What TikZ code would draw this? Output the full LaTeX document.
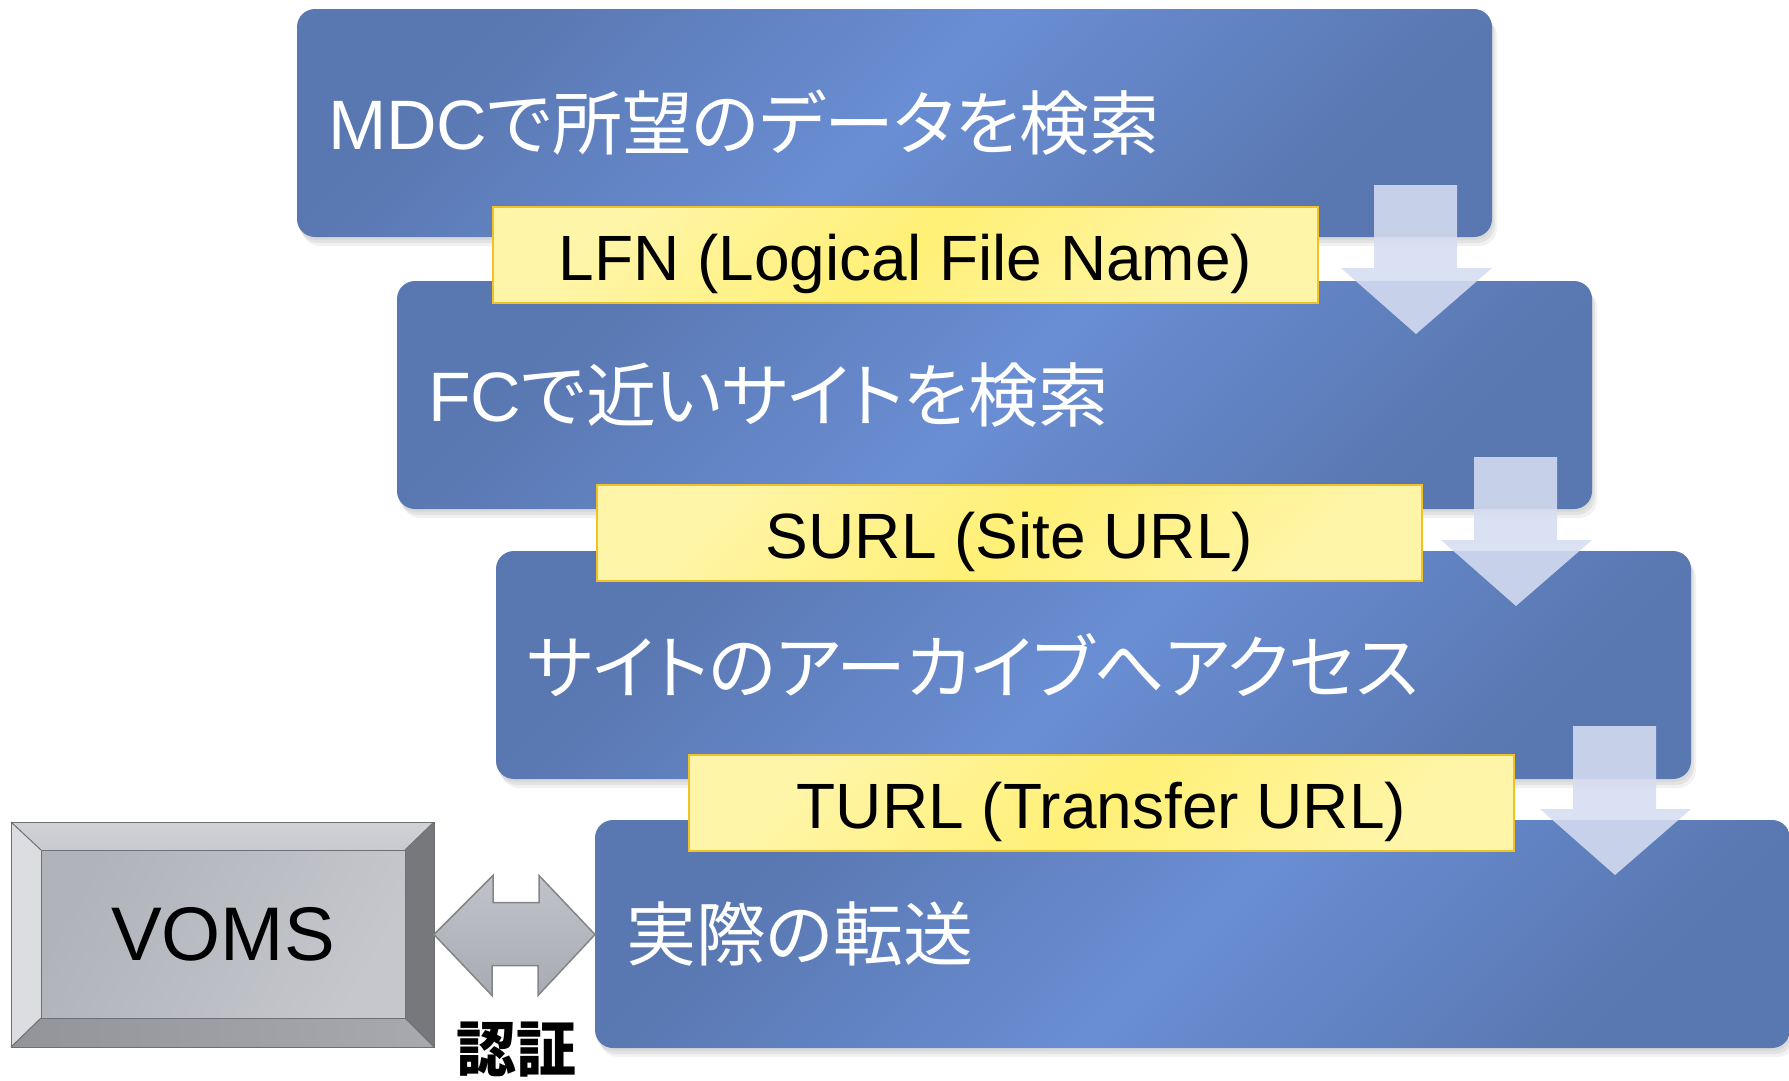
\documentclass[tikz,border=0pt]{standalone}
\usepackage{fontspec}
\setmainfont{Liberation Sans}
\newfontfamily\cjk{Noto Sans CJK JP}[RawFeature=+palt]
\usetikzlibrary{calc,shadows}

\definecolor{bdark}{RGB}{89,119,176}
\definecolor{blight}{RGB}{106,142,212}
\definecolor{ylight}{RGB}{255,245,168}
\definecolor{ymid}{RGB}{255,240,118}
\definecolor{yborder}{RGB}{242,193,40}
\definecolor{arrfill}{RGB}{214,221,241}
\definecolor{gface1}{RGB}{176,179,186}
\definecolor{gface2}{RGB}{197,199,204}
\definecolor{gtop}{RGB}{200,202,207}
\definecolor{gleft}{RGB}{220,221,225}
\definecolor{gright}{RGB}{118,120,124}
\definecolor{gbot}{RGB}{146,148,154}
\definecolor{gline}{RGB}{110,112,117}
\definecolor{darr1}{RGB}{192,195,201}
\definecolor{darr2}{RGB}{168,171,178}

\tikzset{
  stepbox/.style={draw=none, rounded corners=18pt, outer sep=0pt,
    inner xsep=31pt, inner ysep=0pt, minimum width=1195pt, minimum height=228pt,
    text width=1133pt, align=left, text=white,
    font=\fontsize{70}{84}\selectfont,
    left color=bdark, right color=bdark, middle color=blight, shading angle=45,
    drop shadow={opacity=0.10, shadow xshift=1pt, shadow yshift=-3pt},
    drop shadow={opacity=0.12, shadow xshift=3pt, shadow yshift=-6pt},
    drop shadow={opacity=0.10, shadow xshift=5pt, shadow yshift=-9pt}},
  lbl/.style={draw=yborder, line width=2.5pt, outer sep=0pt, inner sep=0pt,
    minimum width=825pt, minimum height=96pt, text=black,
    text height=58pt, text depth=8pt,
    font=\fontsize{64}{76}\selectfont,
    left color=ylight, right color=ylight, middle color=ymid, shading angle=45},
  arrshape/.style={fill=arrfill, fill opacity=0.88, draw=none},
  downarr/.pic={\path[arrshape] (-118,0) -- (-35,0) -- (-35,83) -- (0,83)
      -- (-76,149) -- (-151,83) -- (-118,83) -- cycle;},
  vframe/.style={draw=none, outer sep=0pt, inner sep=0pt, minimum width=423pt, minimum height=225pt},
  vface/.style={draw=gline, line width=1pt, outer sep=0pt, inner sep=0pt,
    minimum width=364pt, minimum height=168pt,
    left color=gface1, right color=gface2, shading angle=60,
    font=\fontsize{76}{90}\selectfont, text=black},
  bevel/.style={draw=gline, line width=1pt},
  dblarr/.style={draw=gline!85, line width=1.5pt, top color=darr1, bottom color=darr2},
}

\begin{document}
\begin{tikzpicture}[x=1pt, y=-1pt]
\useasboundingbox[fill=white] (0,0) rectangle (1789,1080);

% step boxes
\node[stepbox, anchor=north west] (b1) at (297,9)
  {MDC{\cjk で所望のデータを検索}};
\node[stepbox, anchor=north west] (b2) at (397,281)
  {FC{\cjk で近いサイトを検索}};
\node[stepbox, anchor=north west] (b3) at (496,551)
  {{\cjk サイトのアーカイブへアクセス}};
\node[stepbox, anchor=north west] (b4) at (595,820)
  {{\cjk 実際の転送}};

% labels
\node[lbl, anchor=north west] (l1) at (493,207) {LFN (Logical File Name)};
\node[lbl, anchor=north west] (l2) at (597,485) {SURL (Site URL)};
\node[lbl, anchor=north west] (l3) at (689,755) {TURL (Transfer URL)};

% down arrows between steps
\pic (a1) at ($(b1.south east)+(0,-52)$) {downarr};
\pic (a2) at ($(b2.south east)+(0,-52)$) {downarr};
\pic (a3) at ($(b3.south east)+(0,-53)$) {downarr};

% VOMS bevelled box
\node[vframe] (vf) at (222.5,934.5) {};
\node[vface] (voms) at (223,934) {VOMS};
\shade[top color=gtop!85!white, bottom color=gtop] (vf.north west) -- (vf.north east) -- (voms.north east) -- (voms.north west) -- cycle;
\fill[gleft] (vf.north west) -- (voms.north west) -- (voms.south west) -- (vf.south west) -- cycle;
\fill[gright] (vf.north east) -- (vf.south east) -- (voms.south east) -- (voms.north east) -- cycle;
\shade[left color=gbot, right color=gbot!80!white] (vf.south west) -- (vf.south east) -- (voms.south east) -- (voms.south west) -- cycle;
\draw[bevel] (vf.north west) rectangle (vf.south east);
\draw[bevel] (vf.north west) -- (voms.north west) (vf.north east) -- (voms.north east)
  (vf.south west) -- (voms.south west) (vf.south east) -- (voms.south east);
\node[vface] at (voms) {VOMS};

% double arrow VOMS <-> transfer
\draw[dblarr] (vf.east) -- ++(59,-59) -- ++(0,27) -- ++(46,0) -- ++(0,-27)
  -- (b4.west |- vf.east) -- ++(-57,61) -- ++(0,-30) -- ++(-46,0) -- ++(0,30) -- cycle;
\node[font=\fontsize{60}{70}\selectfont\cjk\bfseries, inner sep=0pt] (auth) at (516,1050) {認証};
\end{tikzpicture}
\end{document}
